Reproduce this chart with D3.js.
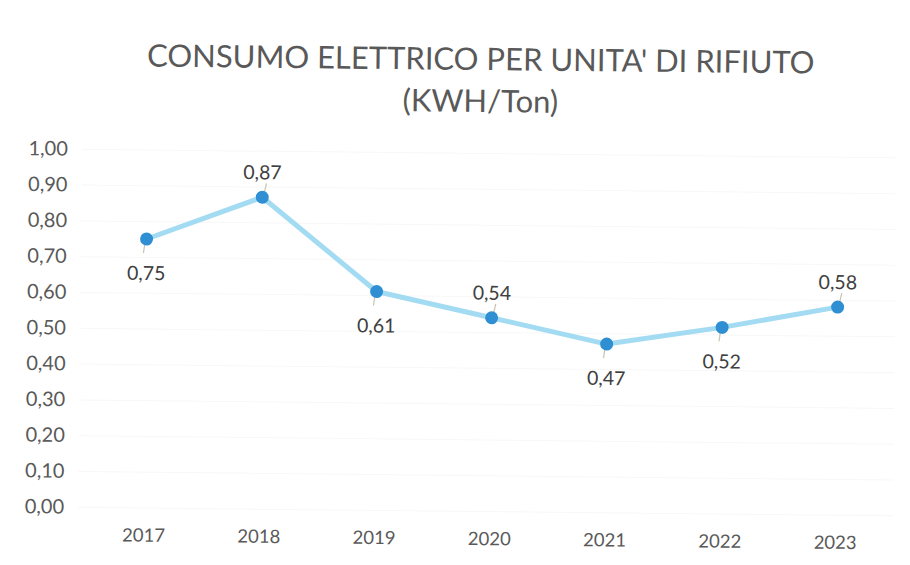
<!DOCTYPE html>
<html>
<head>
<meta charset="utf-8">
<script src="https://cdn.jsdelivr.net/npm/d3@7"></script>
<style>
    body { margin:0; background:#fff; }
    .grid line { stroke:#f7f7f7; }
    .grid path { display:none; }
    .axis path, .axis line { display:none; }
    .axis text { font-family:Lato, "Open Sans", sans-serif; font-size:20px; fill:#595959; }
    .xaxis text { font-size:18.5px; }
    .line { fill:none; stroke:#a3dcf2; stroke-width:5; stroke-linejoin:round; }
    .dot { fill:#2f8fd2; }
    .lbl { font-family:Lato, "Open Sans", sans-serif; font-size:19.5px; fill:#404040; }
    .lead { stroke:#c9c3b0; stroke-width:1.2; }
    .title { font-family:Lato, "Open Sans", sans-serif; font-size:31px; fill:#595959; }
</style>
</head>
<body>
<plot></plot>
<script>
// data
var years = ["2017","2018","2019","2020","2021","2022","2023"];
var values = [0.75,0.87,0.61,0.54,0.47,0.52,0.58];
var labelSide = ["below","above","below","above","below","below","above"];
var yTicks = [0,0.1,0.2,0.3,0.4,0.5,0.6,0.7,0.8,0.9,1.0];
var titleLines = ["CONSUMO ELETTRICO PER UNITA' DI RIFIUTO","(KWH/Ton)"];

function fmt(v){ return v.toFixed(2).replace(".", ","); }

function plot_chart(){
    var width = 910,
        height = 565,
        margin = {left:88,top:153,right:15,bottom:54};

    var svg = d3.select("plot")
        .append("svg")
        .attr("width", width)
        .attr("height", height);

    // scan is slightly tilted
    var g = svg.append("g").attr("transform","rotate(0.6,480,330)");

    var xScale = d3.scaleBand()
        .domain(years)
        .range([margin.left, width-margin.right]);

    var yScale = d3.scaleLinear()
        .domain([0,1])
        .range([height-margin.bottom, margin.top]);

    // title
    g.selectAll(".title")
        .data(titleLines)
        .enter().append("text")
        .attr("class","title")
        .attr("x", 478)
        .attr("y", function(d,i){ return 70 + i*42; })
        .attr("text-anchor","middle")
        .text(function(d){ return d; });

    // grid
    g.append("g")
        .attr("class","grid")
        .attr("transform",`translate(${margin.left-8},0)`)
        .call(d3.axisLeft(yScale).tickValues(yTicks).tickSize(-(width-margin.right-margin.left+8)).tickFormat(""));

    // axis
    g.append("g")
        .attr("class","axis")
        .attr("transform",`translate(${margin.left-22},0)`)
        .call(d3.axisLeft(yScale).tickValues(yTicks).tickSize(0).tickPadding(0).tickFormat(fmt))
        .selectAll("text").attr("dy","0.32em");

    g.append("g")
        .attr("class","axis xaxis")
        .attr("transform",`translate(0,${height-margin.bottom+21})`)
        .call(d3.axisBottom(xScale).tickSize(0).tickPadding(0));

    var data = years.map(function(y,i){ return {year:y, v:values[i], side:labelSide[i]}; });
    var cx = function(d){ return xScale(d.year)+xScale.bandwidth()/2; };

    var line_generator = d3.line()
        .x(cx)
        .y(function(d){ return yScale(d.v); });

    g.append("path")
        .attr("class","line")
        .attr("d", line_generator(data));

    // leader lines
    g.selectAll(".lead")
        .data(data)
        .enter().append("line")
        .attr("class","lead")
        .attr("x1", function(d){ return cx(d) + (d.side=="above" ? 1 : -1); })
        .attr("x2", function(d){ return cx(d) + (d.side=="above" ? 4 : -3); })
        .attr("y1", function(d){ return yScale(d.v); })
        .attr("y2", function(d){ return yScale(d.v) + (d.side=="above" ? -14 : 14); });

    g.selectAll(".dot")
        .data(data)
        .enter().append("circle")
        .attr("class","dot")
        .attr("cx", cx)
        .attr("cy", function(d){ return yScale(d.v); })
        .attr("r", 6.5);

    g.selectAll(".lbl")
        .data(data)
        .enter().append("text")
        .attr("class","lbl")
        .attr("text-anchor","middle")
        .attr("x", cx)
        .attr("y", function(d){ return yScale(d.v) + (d.side=="above" ? -18 : 41); })
        .text(function(d){ return fmt(d.v); });
}

plot_chart();
</script>
</body>
</html>
